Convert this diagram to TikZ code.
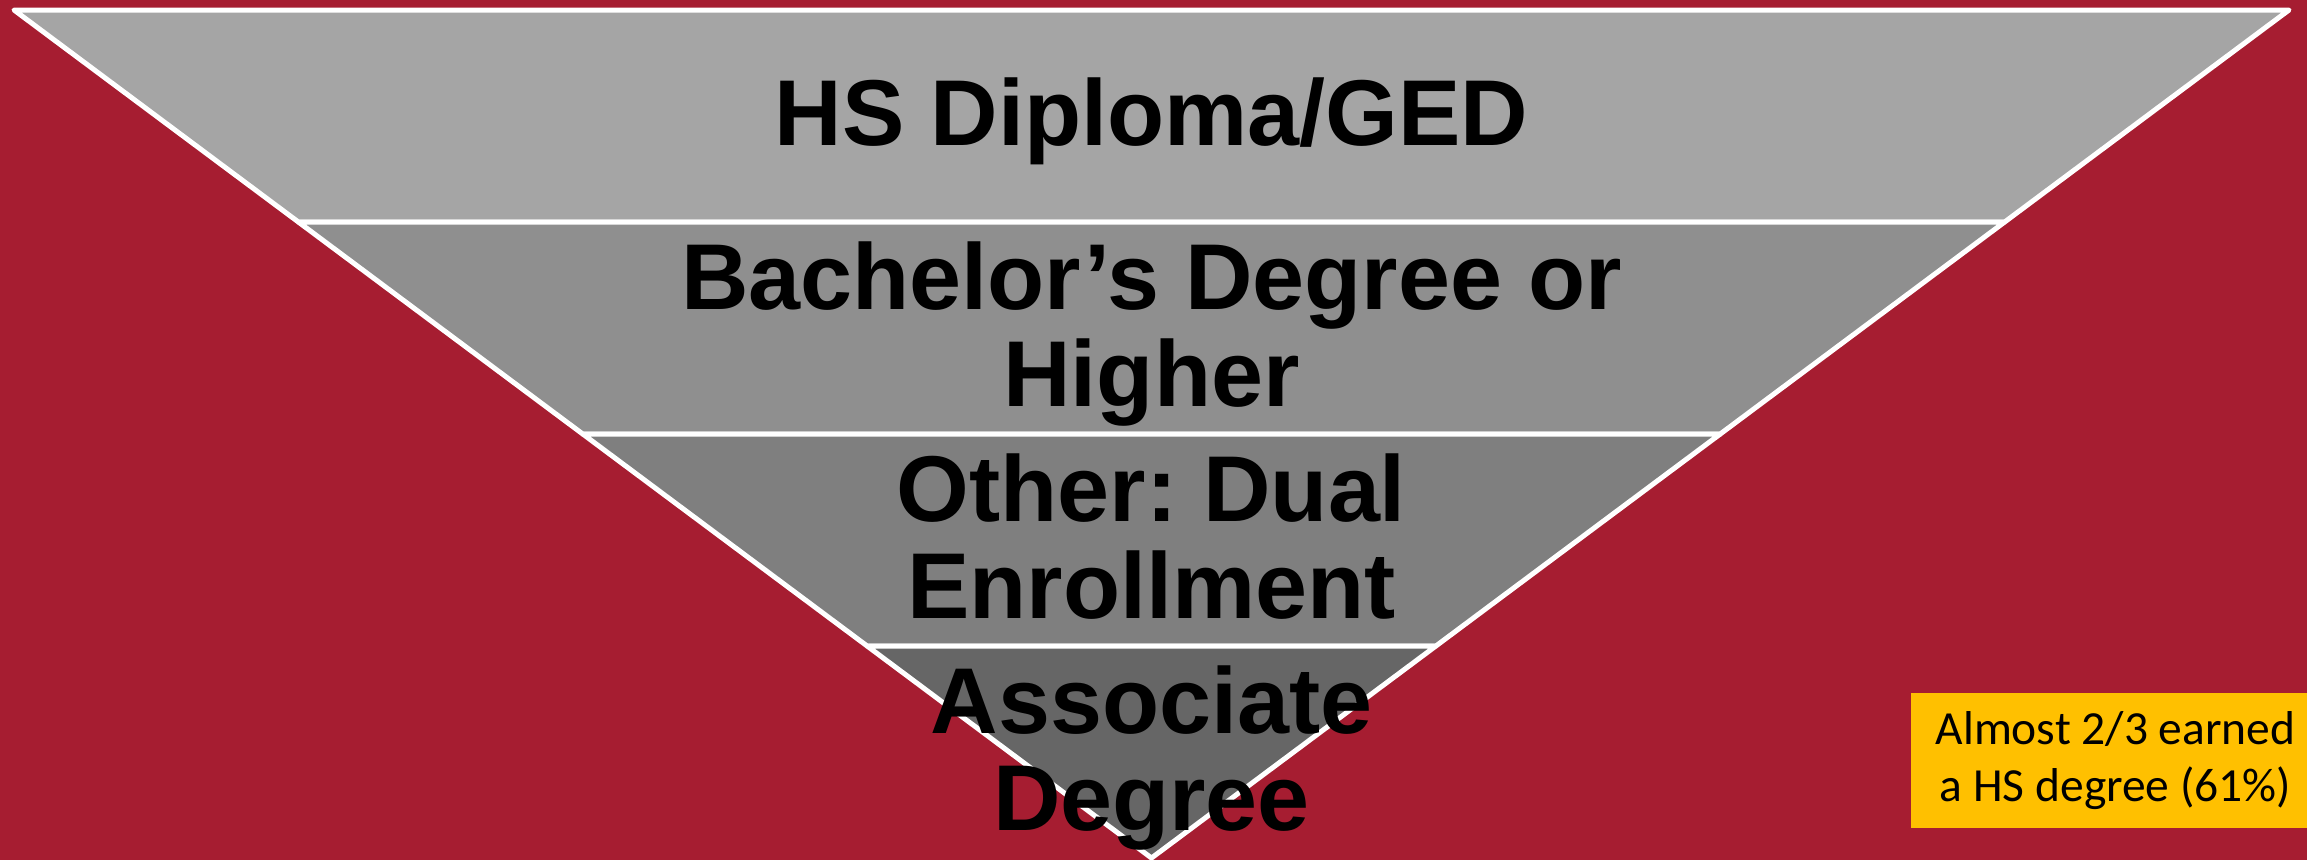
\documentclass[tikz,border=0pt]{standalone}
\usepackage{fontspec}
\setmainfont{Liberation Sans}
\newfontfamily\notefont{Carlito}
\usetikzlibrary{calc}
\definecolor{bgred}{RGB}{166,29,49}
\definecolor{bandA}{RGB}{165,165,165}
\definecolor{bandB}{RGB}{143,143,143}
\definecolor{bandC}{RGB}{127,127,127}
\definecolor{bandD}{RGB}{102,102,102}
\definecolor{notegold}{RGB}{255,192,0}
\frenchspacing
\begin{document}
\begin{tikzpicture}[x=1pt,y=-1pt,
  band/.style={draw=white,line width=5pt,line join=round},
  bandlabel/.style={font=\fontsize{93.5}{97}\selectfont\bfseries,align=center,text=black,inner sep=0pt},
  notebox/.style={fill=notegold,minimum width=409pt,minimum height=135pt,inner sep=0pt,align=center,
    font=\notefont\fontsize{47.5}{57.7}\selectfont,text=black}]
\useasboundingbox (0,0) rectangle (2307,860);
\fill[bgred] (0,0) rectangle (2307,860);
\coordinate (TL) at (14,10);
\coordinate (TR) at (2289,10);
\coordinate (B) at (1151.5,858);
\coordinate (L1) at ($(TL)!0.25!(B)$);
\coordinate (R1) at ($(TR)!0.25!(B)$);
\coordinate (L2) at ($(TL)!0.5!(B)$);
\coordinate (R2) at ($(TR)!0.5!(B)$);
\coordinate (L3) at ($(TL)!0.75!(B)$);
\coordinate (R3) at ($(TR)!0.75!(B)$);
\filldraw[band,fill=bandA] (TL) -- (TR) -- (R1) -- (L1) -- cycle;
\filldraw[band,fill=bandB] (L1) -- (R1) -- (R2) -- (L2) -- cycle;
\filldraw[band,fill=bandC] (L2) -- (R2) -- (R3) -- (L3) -- cycle;
\filldraw[band,fill=bandD] (L3) -- (R3) -- (B) -- cycle;
\node[bandlabel,anchor=base] (hs) at (1151.5,145) {HS Diploma/GED};
\node[bandlabel,anchor=base] (ba) at (1151.5,406) {Bachelor’s Degree or\\Higher};
\node[bandlabel,anchor=base] (de) at (1151.5,618.3) {Other: Dual\\Enrollment};
\node[bandlabel,anchor=base] (as) at (1151.5,830.7) {Associate\\Degree};
\node[notebox] (note) at (2115.5,760.5) {Almost 2/3 earned\\a HS degree (61\%)};
\end{tikzpicture}
\end{document}
